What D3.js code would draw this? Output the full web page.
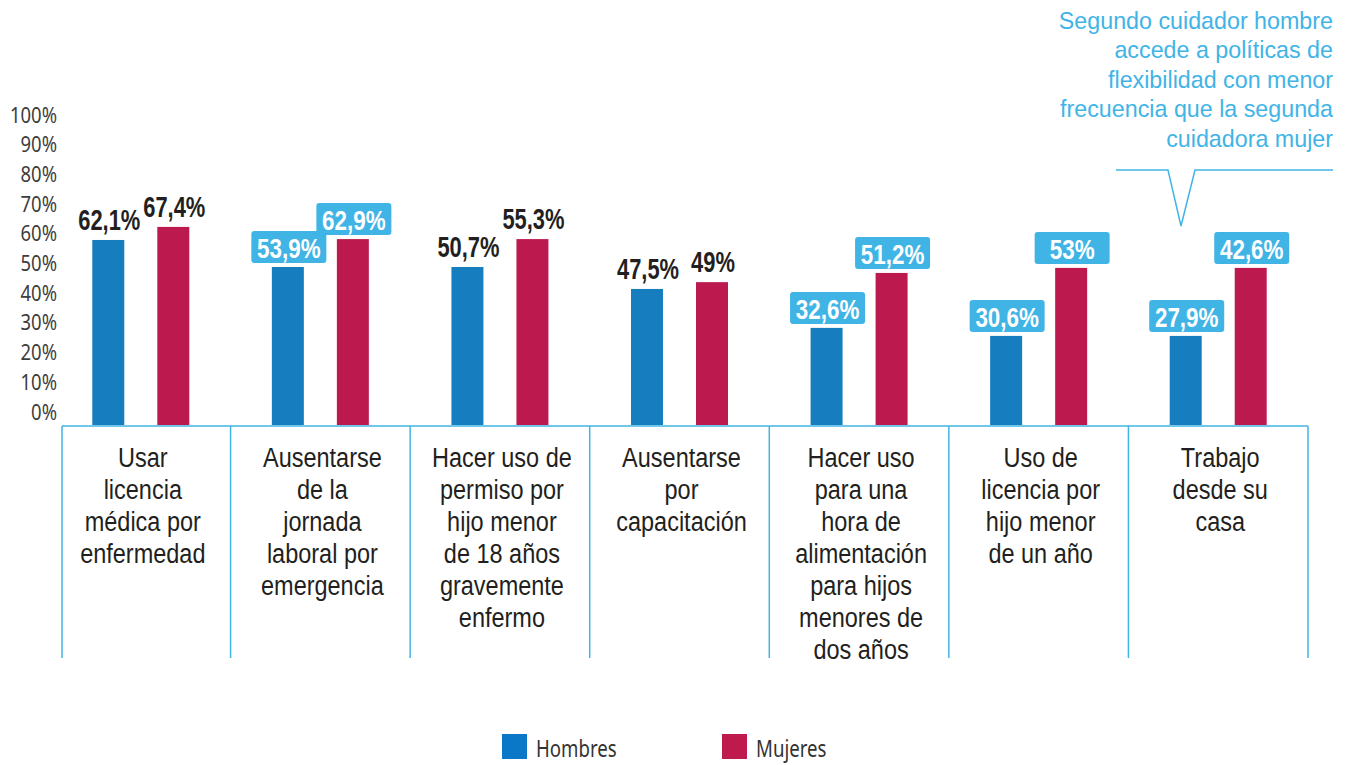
<!DOCTYPE html>
<html>
<head>
<meta charset="utf-8">
<script src="https://cdn.jsdelivr.net/npm/d3@7"></script>
<style>
body{margin:0;background:#fff}
</style>
</head>
<body>
<div class="graph"></div>
<script>
// datos del grafico
const categorias = [
  ["Usar", "licencia", "médica por", "enfermedad"],
  ["Ausentarse", "de la", "jornada", "laboral por", "emergencia"],
  ["Hacer uso de", "permiso por", "hijo menor", "de 18 años", "gravemente", "enfermo"],
  ["Ausentarse", "por", "capacitación"],
  ["Hacer uso", "para una", "hora de", "alimentación", "para hijos", "menores de", "dos años"],
  ["Uso de", "licencia por", "hijo menor", "de un año"],
  ["Trabajo", "desde su", "casa"]
]
const series = ["Hombres", "Mujeres"]
const hombres = [62.1, 53.9, 50.7, 47.5, 32.6, 30.6, 27.9]
const mujeres = [67.4, 62.9, 55.3, 49, 51.2, 53, 42.6]
// alto con que cada barra aparece dibujada en el original
const hombresBarra = [62.3, 53.2, 53.2, 45.8, 32.7, 30, 30]
const mujeresBarra = [66.7, 62.6, 62.6, 48.1, 51.2, 52.9, 52.9]
// etiquetas dentro de caja celeste
const hombresCaja = [false, true, false, false, true, true, true]
const mujeresCaja = [false, true, false, false, true, true, true]
const yTicks = [0, 10, 20, 30, 40, 50, 60, 70, 80, 90, 100]
const nota = ["Segundo cuidador hombre", "accede a políticas de", "flexibilidad con menor", "frecuencia que la segunda", "cuidadora mujer"]

const w = 1348
const h = 765
const colores = {Hombres: "#167dbf", Mujeres: "#bc1a4f"}
const coloresLeyenda = {Hombres: "#0a78c6", Mujeres: "#be1a4e"}
const celeste = "#41b4e6"
const sans = "'Noto Sans', 'DejaVu Sans', sans-serif"
const bold = "'Liberation Sans', Arial, sans-serif"

const filas = categorias.map((c, i) => ({
  id: i,
  lineas: c,
  vals: [
    {serie: "Hombres", valor: hombres[i], barra: hombresBarra[i], caja: hombresCaja[i]},
    {serie: "Mujeres", valor: mujeres[i], barra: mujeresBarra[i], caja: mujeresCaja[i]}
  ]
}))

const svg = d3.select(".graph")
  .append("svg")
  .attr("width", w)
  .attr("height", h)
  .style("display", "block")

const x = d3.scaleBand()
  .domain(filas.map(d => d.id))
  .range([51, 1308])

const x1 = d3.scaleBand()
  .domain(series)
  .range([x.bandwidth() / 2 - 48.5, x.bandwidth() / 2 + 48.5])
  .paddingInner(0.508)

const y = d3.scaleLinear()
  .domain([0, 100])
  .range([425, 128])

// eje y (los textos van un poco mas arriba que la linea base)
const ejeY = svg.append("g")
  .attr("transform", "translate(57,-13)")
  .call(d3.axisLeft(y).tickValues(yTicks).tickFormat(d => d + "%").tickSize(0).tickPadding(0))
ejeY.select(".domain").remove()
ejeY.selectAll("text")
  .attr("transform", "scale(0.84,1)")
  .style("font-family", sans)
  .style("font-size", "22px")
  .style("fill", "#3d3d3d")

// cajas de categorias
const lineaX = i => i == 0 ? 62 : x(i)
svg.append("line")
  .attr("x1", 62).attr("x2", 1308)
  .attr("y1", 426).attr("y2", 426)
  .style("stroke", celeste).style("stroke-width", 1.5)

svg.selectAll(".sep")
  .data(d3.range(categorias.length + 1))
  .enter()
  .append("line")
  .attr("class", "sep")
  .attr("x1", d => d == categorias.length ? 1308 : lineaX(d))
  .attr("x2", d => d == categorias.length ? 1308 : lineaX(d))
  .attr("y1", 426).attr("y2", 658)
  .style("stroke", celeste).style("stroke-width", 1.5)

const grupo = svg.selectAll(".grupo")
  .data(filas)
  .enter()
  .append("g")
  .attr("class", "grupo")
  .attr("transform", d => "translate(" + x(d.id) + ",0)")

grupo.selectAll("rect")
  .data(d => d.vals)
  .enter()
  .append("rect")
  .attr("x", d => x1(d.serie))
  .attr("width", x1.bandwidth())
  .attr("y", d => y(d.barra))
  .attr("height", d => y(0) - y(d.barra))
  .style("fill", d => colores[d.serie])

const etiqueta = grupo.selectAll(".etiqueta")
  .data(d => d.vals)
  .enter()
  .append("g")
  .attr("class", "etiqueta")
  .attr("transform", d => "translate(" + (x1(d.serie) + x1.bandwidth() / 2 + 1) + "," + y(d.barra) + ")")

etiqueta.filter(d => d.caja)
  .append("rect")
  .attr("x", -37.5)
  .attr("y", -36)
  .attr("width", 75)
  .attr("height", 32)
  .attr("rx", 3)
  .style("fill", celeste)

etiqueta.append("text")
  .attr("text-anchor", "middle")
  .attr("y", d => d.caja ? -9 : -10)
  .attr("transform", d => d.caja ? "scale(0.8,1)" : "scale(0.73,1)")
  .style("font-family", bold)
  .style("font-weight", "bold")
  .style("font-size", d => d.caja ? "28px" : "30px")
  .style("fill", d => d.caja ? "#fff" : "#231f20")
  .text(d => String(d.valor).replace(".", ",") + "%")

// nombres de categorias
grupo.append("g")
  .attr("transform", "translate(" + (x.bandwidth() / 2 + 2) + ",0) scale(0.87,1)")
  .append("text")
  .attr("text-anchor", "middle")
  .style("font-family", bold)
  .style("font-size", "27px")
  .style("fill", "#231f20")
  .selectAll("tspan")
  .data(d => d.lineas)
  .enter()
  .append("tspan")
  .attr("x", 0)
  .attr("y", (d, i) => 467 + i * 32)
  .text(d => d)

// nota
svg.append("g")
  .attr("transform", "translate(1333,0) scale(0.97,1)")
  .append("text")
  .attr("text-anchor", "end")
  .style("font-family", bold)
  .style("font-size", "24px")
  .style("fill", celeste)
  .selectAll("tspan")
  .data(nota)
  .enter()
  .append("tspan")
  .attr("x", 0)
  .attr("y", (d, i) => 29 + i * 29.5)
  .text(d => d)

svg.append("path")
  .attr("d", "M1116,170 L1168,170 L1181,226 L1195,170 L1333,170")
  .style("fill", "none")
  .style("stroke", celeste)
  .style("stroke-width", 1.5)

// leyenda
const leyenda = svg.selectAll(".leyenda")
  .data(series)
  .enter()
  .append("g")
  .attr("class", "leyenda")
  .attr("transform", (d, i) => "translate(" + (502 + i * 220) + ",734)")

leyenda.append("rect")
  .attr("width", 25)
  .attr("height", 25)
  .style("fill", d => coloresLeyenda[d])

leyenda.append("text")
  .attr("transform", "translate(34,23) scale(0.81,1)")
  .style("font-family", sans)
  .style("font-size", "23px")
  .style("fill", "#333")
  .text(d => d)
</script>
</body>
</html>
